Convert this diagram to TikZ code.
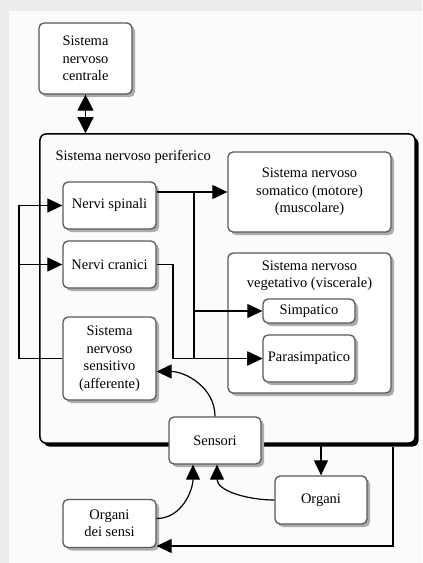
\documentclass[tikz,border=0pt]{standalone}
\usepackage{fontspec}
\setmainfont{Liberation Serif}
\usetikzlibrary{arrows.meta,shadows,calc}
\tikzset{
  BoxStyle/.style   = {draw=gray!70!black, line width=1.3bp, fill=white,
                       rounded corners=5bp, inner sep=0pt, align=center,
                       font=\fontsize{14.5bp}{17.5bp}\selectfont,
                       drop shadow={shadow xshift=3bp, shadow yshift=-3bp,
                                    fill=gray!65, opacity=1}},
  FrameStyle/.style = {draw=black, line width=1.5bp, fill=gray!3,
                       rounded corners=6bp, inner sep=0pt,
                       drop shadow={shadow xshift=3.5bp, shadow yshift=-3.5bp,
                                    fill=black, opacity=1}},
  EdgeStyle/.style  = {line width=1.2bp, -{Triangle[length=15bp,width=14bp]}},
  BothStyle/.style  = {line width=1.2bp, {Triangle[length=16bp,width=16bp]}-{Triangle[length=16bp,width=16bp]}}
}

\begin{document}
\begin{tikzpicture}[x=1bp,y=1bp]
	\useasboundingbox (0,0) rectangle (422,-563);
	\fill[gray!15] (0,0) rectangle (422,-563);
	\fill[gray!3] (9,-11) rectangle (422,-563);
	% outer frame
	\node[FrameStyle, minimum width=375bp, minimum height=309bp] (snp) at (227.5,-288.5) {};
	\node[anchor=west, font=\fontsize{14.5bp}{17.5bp}\selectfont] (snpL) at (52,-157) {Sistema nervoso periferico};
	% boxes
	\node[BoxStyle, minimum width=93bp, minimum height=71bp] (snc) at (85.5,-58.5) {Sistema\\nervoso\\centrale};
	\node[BoxStyle, minimum width=93bp, minimum height=47bp] (spin) at (109.5,-205.5) {Nervi spinali};
	\node[BoxStyle, minimum width=93bp, minimum height=47bp] (cran) at (109.5,-264.5) {Nervi cranici};
	\node[BoxStyle, minimum width=93bp, minimum height=83bp] (sens) at (109.5,-358.5) {Sistema\\nervoso\\sensitivo\\(afferente)};
	\node[BoxStyle, minimum width=163bp, minimum height=80bp] (soma) at (309.5,-192) {Sistema nervoso\\somatico (motore)\\(muscolare)};
	\node[BoxStyle, minimum width=163bp, minimum height=140bp,
	      label={[anchor=north, yshift=-5bp, align=center,
	              font=\fontsize{14.5bp}{17.5bp}\selectfont]north:Sistema nervoso\\vegetativo (viscerale)}] (vege) at (309.5,-323) {};
	\node[BoxStyle, minimum width=92bp, minimum height=24bp] (simp) at (309,-311) {Simpatico};
	\node[BoxStyle, minimum width=92bp, minimum height=47bp] (para) at (309,-358.5) {Parasimpatico};
	\node[BoxStyle, minimum width=92bp, minimum height=47bp] (sori) at (215,-440.5) {Sensori};
	\node[BoxStyle, minimum width=92bp, minimum height=48bp] (org) at (321,-500) {Organi};
	\node[BoxStyle, minimum width=93bp, minimum height=48bp] (ods) at (109.5,-523.5) {Organi\\dei sensi};
	% junctions
	\coordinate (busL) at (19,0);
	\coordinate (spinJ) at (194,-192);
	\coordinate (cranJ) at (173,0);
	\coordinate (rtJ) at (393,0);
	% edges
	\draw[BothStyle] (snc.south) -- (snc.south |- snp.north);
	\draw[line width=1.2bp] (spin.east |- soma.west) -- (spinJ);
	\draw[EdgeStyle] (spinJ) -- (soma.west);
	\draw[EdgeStyle] (spinJ) |- (simp.west);
	\draw[EdgeStyle] (spinJ) |- (para.west);
	\draw[EdgeStyle] (cran.east) -- (cran.east -| cranJ) |- (para.west);
	\draw[EdgeStyle] (sens.west) -- (sens.west -| busL) |- (spin.west);
	\draw[EdgeStyle] (busL |- cran.west) -- (cran.west);
	\draw[EdgeStyle] (sori.north) to[out=90,in=0] ($(sens.east)+(0,-13)$);
	\draw[EdgeStyle] ($(ods.east)+(0,5)$) to[out=0,in=-90] ($(sori.south)+(-22,0)$);
	\draw[EdgeStyle] (org.west) to[out=180,in=-90] ($(sori.south)+(2,0)$);
	\draw[EdgeStyle] (org.north |- snp.south) -- (org.north);
	\draw[EdgeStyle] ($(rtJ |- snp.south)+(0,-3)$) |- ($(ods.east)+(0,-22.5)$);
\end{tikzpicture}
\end{document}
